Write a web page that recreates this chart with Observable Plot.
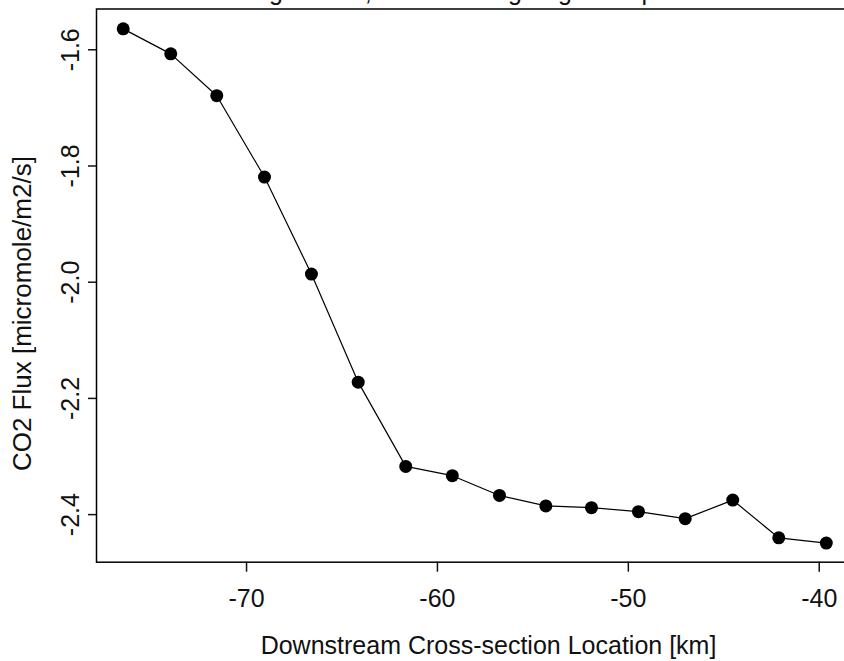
<!DOCTYPE html>
<html>
<head>
<meta charset="utf-8">
<script src="https://cdn.jsdelivr.net/npm/d3@7"></script>
<script src="https://cdn.jsdelivr.net/npm/@observablehq/plot@0.6"></script>
<style>
  html, body { margin: 0; padding: 0; background: #fff; overflow: hidden; width: 844px; height: 661px; }
  #chart svg { max-width: none !important; display: block; }
</style>
</head>
<body>
<div id="chart"></div>
<script>
// Cross-section locations along the river (km) and measured CO2 flux
const km = [-76.46, -73.97, -71.56, -69.06, -66.60, -64.15, -61.66, -59.22,
            -56.75, -54.32, -51.93, -49.47, -47.02, -44.53, -42.12, -39.63];
const flux = [-1.564, -1.607, -1.679, -1.819, -1.986, -2.172, -2.317, -2.333,
              -2.367, -2.385, -2.388, -2.395, -2.407, -2.375, -2.440, -2.449];

// Axis ticks and titles
const xTicks = [-70, -60, -50, -40];
const yTicks = [-1.6, -1.8, -2.0, -2.2, -2.4];
const titleText = ["August 2nd, 2005 H2 Lagrangian Experiment"];
const xTitle = ["Downstream Cross-section Location [km]"];
const yTitle = ["CO2 Flux [micromole/m2/s]"];

const points = km.map((k, i) => ({km: k, flux: flux[i]}));

const chart = Plot.plot({
  width: 880,
  height: 661,
  marginLeft: 96,
  marginRight: 0,
  marginTop: 8.5,
  marginBottom: 99.3,
  style: {
    fontFamily: "'Liberation Sans', Arial, sans-serif",
    fontSize: "25px",
    color: "#111",
    background: "white",
    maxWidth: "none"
  },
  x: {domain: [-77.86, -36.79], label: null},
  y: {domain: [-2.4819, -1.5298], label: null},
  marks: [
    Plot.frame({stroke: "#000", strokeWidth: 1.5}),
    Plot.axisX({ticks: xTicks, tickSize: 10, tickPadding: 17, tickFormat: d => String(d),
                label: null, strokeWidth: 1.5, fontSize: 25}),
    Plot.axisY({ticks: yTicks, tickSize: 8, tickFormat: () => "", label: null, strokeWidth: 1.5}),
    Plot.text(yTicks, {y: d => d, frameAnchor: "left", dx: -26, rotate: -90,
                       text: d => d.toFixed(1), textAnchor: "middle",
                       lineAnchor: "middle", fontSize: 25}),
    Plot.text(yTitle, {frameAnchor: "left", dx: -74, dy: 28, rotate: -90, text: d => d,
                       textAnchor: "middle", lineAnchor: "middle", fontSize: 26}),
    Plot.text(xTitle, {frameAnchor: "bottom", dy: 83.3, text: d => d,
                       lineAnchor: "middle", fontSize: 25}),
    Plot.text(titleText, {frameAnchor: "top", dy: -17.5, text: d => d,
                          lineAnchor: "middle", fontSize: 25}),
    Plot.line(points, {x: "km", y: "flux", stroke: "#000", strokeWidth: 1.2}),
    Plot.dot(points, {x: "km", y: "flux", r: 6.5, fill: "#000", stroke: "none"})
  ]
});

document.getElementById("chart").append(chart);
</script>
</body>
</html>
